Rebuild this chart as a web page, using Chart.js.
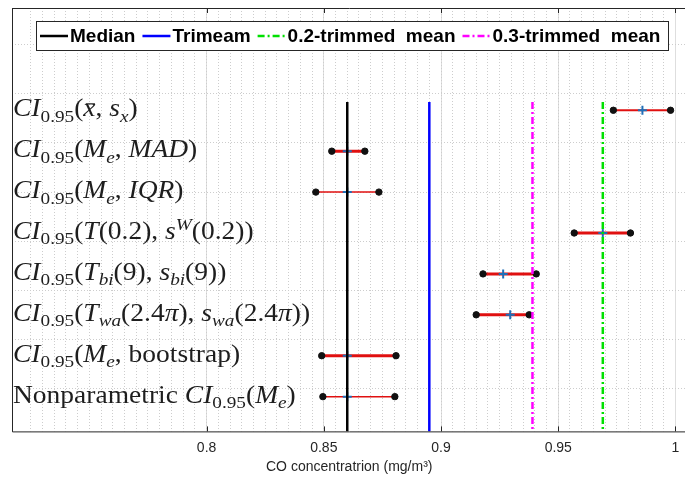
<!DOCTYPE html>
<html>
<head>
<meta charset="utf-8">
<script src="https://cdn.jsdelivr.net/npm/chart.js@4.4.1/dist/chart.umd.min.js"></script>
<style>
  html, body { margin: 0; padding: 0; background: #fff; overflow: hidden; }
  #wrap { width: 693px; height: 486px; position: relative; }
</style>
</head>
<body>
<div id="wrap"><canvas id="chart"></canvas></div>
<script>
// CO concentration: 95% confidence intervals by method, plus location estimates.

const rows = [1, 2, 3, 4, 5, 6, 7, 8];
const ciLow    = [0.9735, 0.8534, 0.8466, 0.9568, 0.9179, 0.9150, 0.8491, 0.8496];
const ciHigh   = [0.9979, 0.8675, 0.8735, 0.9808, 0.9406, 0.9376, 0.8808, 0.8803];
const ciCenter = [0.9859, 0.8600, 0.8600, 0.9690, 0.9265, 0.9295, 0.8600, 0.8600];

const estNames  = ['Median', 'Trimeam', '0.2-trimmed  mean', '0.3-trimmed  mean'];
const estValues = [0.860, 0.895, 0.969, 0.939];

const xTicks = [0.8, 0.85, 0.9, 0.95, 1];
const xTickLabels = ['0.8', '0.85', '0.9', '0.95', '1'];
const yGrid = [-0.6, 0.6, 1.8, 3.0, 4.2, 5.4, 6.6, 7.8];

// row labels: [text, style]  i=italic r=roman s=subscript si=italic subscript pi=italic superscript b=italic with bar
const CI = [['CI', 'i'], ['0.95', 's']];
const rowLabels = [
  [...CI, ['(', 'r'], ['x', 'b'], [', ', 'r'], ['s', 'i'], ['x', 'si'], [')', 'r']],
  [...CI, ['(', 'r'], ['M', 'i'], ['e', 'si'], [', ', 'r'], ['MAD', 'i'], [')', 'r']],
  [...CI, ['(', 'r'], ['M', 'i'], ['e', 'si'], [', ', 'r'], ['IQR', 'i'], [')', 'r']],
  [...CI, ['(', 'r'], ['T', 'i'], ['(0.2), ', 'r'], ['s', 'i'], ['W', 'pi'], ['(0.2))', 'r']],
  [...CI, ['(', 'r'], ['T', 'i'], ['bi', 'si'], ['(9), ', 'r'], ['s', 'i'], ['bi', 'si'], ['(9))', 'r']],
  [...CI, ['(', 'r'], ['T', 'i'], ['wa', 'si'], ['(2.4', 'r'], ['π', 'i'], ['), ', 'r'], ['s', 'i'], ['wa', 'si'], ['(2.4', 'r'], ['π', 'i'], ['))', 'r']],
  [...CI, ['(', 'r'], ['M', 'i'], ['e', 'si'], [', bootstrap)', 'r']],
  [['Nonparametric ', 'r'], ...CI, ['(', 'r'], ['M', 'i'], ['e', 'si'], [')', 'r']],
];

// styles
const estColors = ['#000000', '#0000ff', '#00e000', '#ff00ff'];
const estDash   = [[], [], [7, 3, 2, 3], [7, 3, 2, 3]];
const ciWidths  = [2, 3, 1.5, 3, 3, 3, 3, 1.5];
const X_MIN = 0.717, X_MAX = 1.0047, Y_MIN = -1.5, Y_MAX = 8.85, LINE_TOP = 0.8;
const SERIF = '"Liberation Serif", "DejaVu Serif", serif';
const SANS = '"Liberation Sans", Arial, sans-serif';
const LABEL_SIZE = 25, LABEL_STRETCH = 1.1;

function richLine(ctx, x, y, segs, size) {
  for (const [t, st] of segs) {
    const small = st === 's' || st === 'si' || st === 'pi';
    const fs = small ? size * 0.7 : size;
    const it = st === 'i' || st === 'si' || st === 'pi' || st === 'b';
    ctx.font = `${it ? 'italic ' : ''}${fs}px ${SERIF}`;
    const dy = (st === 's' || st === 'si') ? size * 0.22 : st === 'pi' ? -size * 0.36 : 0;
    ctx.fillText(t, x, y + dy);
    const w = ctx.measureText(t).width;
    if (st === 'b') {
      ctx.fillRect(x + w * 0.2, y - size * 0.52, w * 0.75, 1.2);
    }
    x += w;
  }
  return x;
}

const decor = {
  id: 'decor',
  beforeDatasetsDraw(chart) {
    const { ctx, chartArea: a, scales } = chart;
    ctx.save();
    ctx.fillStyle = '#1e1e1e';
    ctx.textBaseline = 'alphabetic';
    ctx.textAlign = 'left';
    rowLabels.forEach((segs, i) => {
      ctx.save();
      ctx.translate(a.left + 1, scales.y.getPixelForValue(rows[i]) + 6);
      ctx.scale(LABEL_STRETCH, 1);
      richLine(ctx, 0, 0, segs, LABEL_SIZE);
      ctx.restore();
    });
    ctx.restore();
  },
  afterDraw(chart) {
    const { ctx, chartArea: a, scales } = chart;
    ctx.save();
    // box
    ctx.strokeStyle = '#262626';
    ctx.lineWidth = 1;
    ctx.beginPath();
    ctx.moveTo(a.left + 0.5, a.top + 0.5);
    ctx.lineTo(a.right, a.top + 0.5);
    ctx.moveTo(a.left + 0.5, a.top);
    ctx.lineTo(a.left + 0.5, a.bottom + 0.5);
    ctx.lineTo(a.right, a.bottom + 0.5);
    for (const v of xTicks) {
      const px = Math.round(scales.x.getPixelForValue(v)) + 0.5;
      ctx.moveTo(px, a.bottom); ctx.lineTo(px, a.bottom - 5);
      ctx.moveTo(px, a.top); ctx.lineTo(px, a.top + 5);
    }
    ctx.stroke();

    // legend inside the axes
    const bx = 36, by = 21, bw = 632, bh = 29, cy = by + bh / 2 + 0.5;
    ctx.fillStyle = '#fff';
    ctx.fillRect(bx, by, bw, bh);
    ctx.strokeRect(bx + 0.5, by + 0.5, bw, bh);
    ctx.font = `bold 19px ${SANS}`;
    ctx.textBaseline = 'middle';
    let x = bx + 4;
    estNames.forEach((name, i) => {
      ctx.strokeStyle = estColors[i];
      ctx.lineWidth = 2.5;
      ctx.setLineDash(estDash[i]);
      ctx.beginPath();
      ctx.moveTo(x, cy); ctx.lineTo(x + 28, cy);
      ctx.stroke();
      ctx.setLineDash([]);
      ctx.fillStyle = '#000';
      ctx.fillText(name, x + 30, cy + 1);
      x += 30 + ctx.measureText(name).width + 7;
    });
    ctx.restore();
  }
};

const datasets = [];
estNames.forEach((name, i) => {
  datasets.push({
    type: 'line', label: name,
    data: [{ x: estValues[i], y: LINE_TOP }, { x: estValues[i], y: Y_MAX }],
    borderColor: estColors[i], borderWidth: 2.5, borderDash: estDash[i],
    pointRadius: 0, order: 2,
  });
});
rows.forEach((r, i) => {
  datasets.push({
    type: 'line', label: 'CI ' + r,
    data: [{ x: ciLow[i], y: r }, { x: ciHigh[i], y: r }],
    borderColor: '#e01010', borderWidth: ciWidths[i],
    pointRadius: 3.2, pointBackgroundColor: '#111', pointBorderColor: '#111', pointBorderWidth: 1,
    order: 3,
  });
});
datasets.push({
  type: 'scatter', label: 'centre',
  data: rows.map((r, i) => ({ x: ciCenter[i], y: r })),
  pointStyle: 'cross', pointRadius: 4.5, borderColor: '#1f6fb8', backgroundColor: '#1f6fb8',
  pointBorderWidth: 2, order: 2.5,
});

new Chart(document.getElementById('chart'), {
  type: 'line',
  data: { datasets },
  options: {
    responsive: true, maintainAspectRatio: false, animation: false,
    layout: { padding: { left: 12, top: 8, right: 0, bottom: 6 } },
    plugins: { legend: { display: false }, tooltip: { enabled: false } },
    scales: {
      x: {
        type: 'linear', position: 'bottom', min: X_MIN, max: X_MAX,
        afterBuildTicks: s => { s.ticks = xTicks.map(v => ({ value: v })); },
        ticks: {
          color: '#262626', font: { family: SANS, size: 14 }, padding: 8,
          callback: v => xTickLabels[xTicks.indexOf(v)] ?? '',
        },
        grid: { color: '#dedede', drawTicks: false },
        border: { display: false },
        title: { display: true, text: 'CO concentratrion (mg/m³)', color: '#262626',
                 font: { family: SANS, size: 14 }, padding: { top: -5, bottom: 4 } },
      },
      xMinor: {
        type: 'linear', position: 'top', min: X_MIN, max: X_MAX,
        ticks: { display: false, stepSize: 0.005 },
        grid: { color: '#cdcdcd', drawTicks: false },
        border: { display: false, dash: [1, 2] },
      },
      y: {
        type: 'linear', reverse: true, min: Y_MIN, max: Y_MAX,
        afterBuildTicks: s => { s.ticks = yGrid.map(v => ({ value: v })); },
        ticks: { display: false },
        grid: { color: '#cdcdcd', drawTicks: false },
        border: { display: false, dash: [1, 2] },
      },
    },
  },
  plugins: [decor],
});
</script>
</body>
</html>
